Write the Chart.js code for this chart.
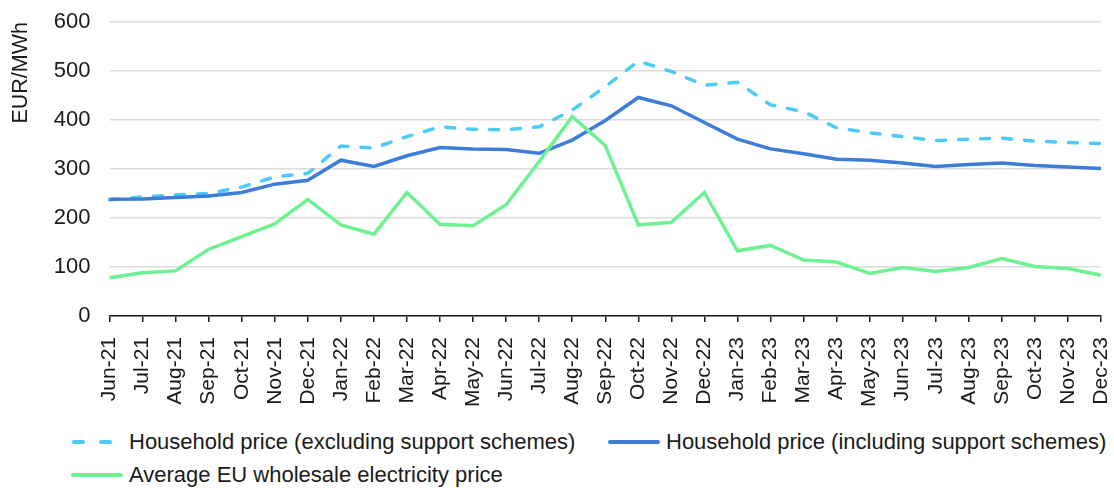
<!DOCTYPE html>
<html>
<head>
<meta charset="utf-8">
<script src="https://cdn.jsdelivr.net/npm/chart.js@4"></script>
<style>
  body { margin: 0; background: #fff; font-family: "Liberation Sans", Arial, sans-serif; }
  #wrap { position: relative; width: 1114px; height: 488px; }
  #chart { position: absolute; left: 0; top: 0; }
  .leg { position: absolute; display: flex; align-items: center; font-size: 22px; color: #1a1a1a; white-space: nowrap; }
  .leg svg { margin-right: 6px; }
</style>
</head>
<body>
<div id="wrap">
  <canvas id="chart" width="1114" height="422"></canvas>
  <div class="leg" style="left:71px; top:429px;">
    <svg width="52" height="8"><line x1="3" y1="4" x2="50" y2="4" stroke="#4ccbf8" stroke-width="4" stroke-linecap="round" stroke-dasharray="9 18"/></svg>
    <span>Household price (excluding support schemes)</span>
  </div>
  <div class="leg" style="left:608px; top:429px;">
    <svg width="52" height="8"><line x1="2" y1="4" x2="50" y2="4" stroke="#3d7dd8" stroke-width="4" stroke-linecap="round"/></svg>
    <span>Household price (including support schemes)</span>
  </div>
  <div class="leg" style="left:71px; top:462px;">
    <svg width="52" height="8"><line x1="2" y1="4" x2="50" y2="4" stroke="#6ef291" stroke-width="4" stroke-linecap="round"/></svg>
    <span>Average EU wholesale electricity price</span>
  </div>
</div>
<script>
// monthly prices, EUR/MWh
var months = ['Jun-21', 'Jul-21', 'Aug-21', 'Sep-21', 'Oct-21', 'Nov-21', 'Dec-21',
  'Jan-22', 'Feb-22', 'Mar-22', 'Apr-22', 'May-22', 'Jun-22', 'Jul-22', 'Aug-22', 'Sep-22', 'Oct-22', 'Nov-22', 'Dec-22',
  'Jan-23', 'Feb-23', 'Mar-23', 'Apr-23', 'May-23', 'Jun-23', 'Jul-23', 'Aug-23', 'Sep-23', 'Oct-23', 'Nov-23', 'Dec-23'];

var householdExcl = [237, 243, 247, 250, 263, 284, 291,
  347, 343, 366, 386, 381, 380, 386, 420, 468, 520, 499, 471,
  477, 431, 417, 384, 374, 366, 358, 361, 363, 357, 354, 352];

var householdIncl = [238, 239, 242, 245, 252, 269, 277,
  318, 305, 327, 344, 341, 340, 332, 359, 399, 446, 429, 395,
  361, 341, 331, 320, 318, 312, 305, 309, 312, 307, 304, 301];

var wholesale = [78, 88, 92, 136, 162, 188, 238,
  186, 167, 252, 187, 184, 227, 315, 407, 348, 186, 191, 252,
  133, 144, 114, 110, 87, 99, 91, 99, 117, 101, 97, 83];

var yTicks = [0, 100, 200, 300, 400, 500, 600];

var fontFamily = '"Liberation Sans", Arial, sans-serif';

function lineSet(label, data, color, order, dash) {
  return {
    label: label,
    data: data,
    borderColor: color,
    backgroundColor: color,
    borderWidth: 3.5,
    borderDash: dash || [],
    borderCapStyle: dash ? 'round' : 'butt',
    pointRadius: 0,
    tension: 0,
    fill: false,
    order: order
  };
}

new Chart(document.getElementById('chart'), {
  type: 'line',
  data: {
    labels: months,
    datasets: [
      lineSet('Household price (excluding support schemes)', householdExcl, '#4ccbf8', 2, [9, 13]),
      lineSet('Household price (including support schemes)', householdIncl, '#3d7dd8', 1),
      lineSet('Average EU wholesale electricity price', wholesale, '#6ef291', 0)
    ]
  },
  options: {
    responsive: false,
    devicePixelRatio: 1,
    animation: false,
    layout: { padding: { top: 22, right: 0, left: 8, bottom: 0 } },
    plugins: { legend: { display: false }, tooltip: { enabled: false } },
    scales: {
      x: {
        offset: false,
        // keep the first and last month right at the plot edges
        afterFit: function (scale) { scale.paddingRight = 13; scale.paddingTop = 0; },
        border: { color: '#1a1a1a', width: 1.5 },
        grid: { display: true, drawOnChartArea: false, drawTicks: true, tickLength: 6, color: '#1a1a1a', lineWidth: 1.5 },
        ticks: { color: '#1a1a1a', font: { family: fontFamily, size: 21 }, maxRotation: 90, minRotation: 90, autoSkip: false, padding: 15 }
      },
      y: {
        min: 0,
        max: 600,
        afterBuildTicks: function (axis) { axis.ticks = yTicks.map(function (v) { return { value: v }; }); },
        afterFit: function (scale) { scale.paddingTop = 0; },
        border: { display: false },
        grid: { color: '#dcdcdc', lineWidth: 1.5, drawTicks: false },
        ticks: { color: '#1a1a1a', font: { family: fontFamily, size: 22 }, padding: 19 },
        title: { display: true, text: 'EUR/MWh', align: 'end', color: '#1a1a1a', font: { family: fontFamily, size: 21.5 }, padding: { top: 0, bottom: 1 } }
      }
    }
  }
});
</script>
</body>
</html>
